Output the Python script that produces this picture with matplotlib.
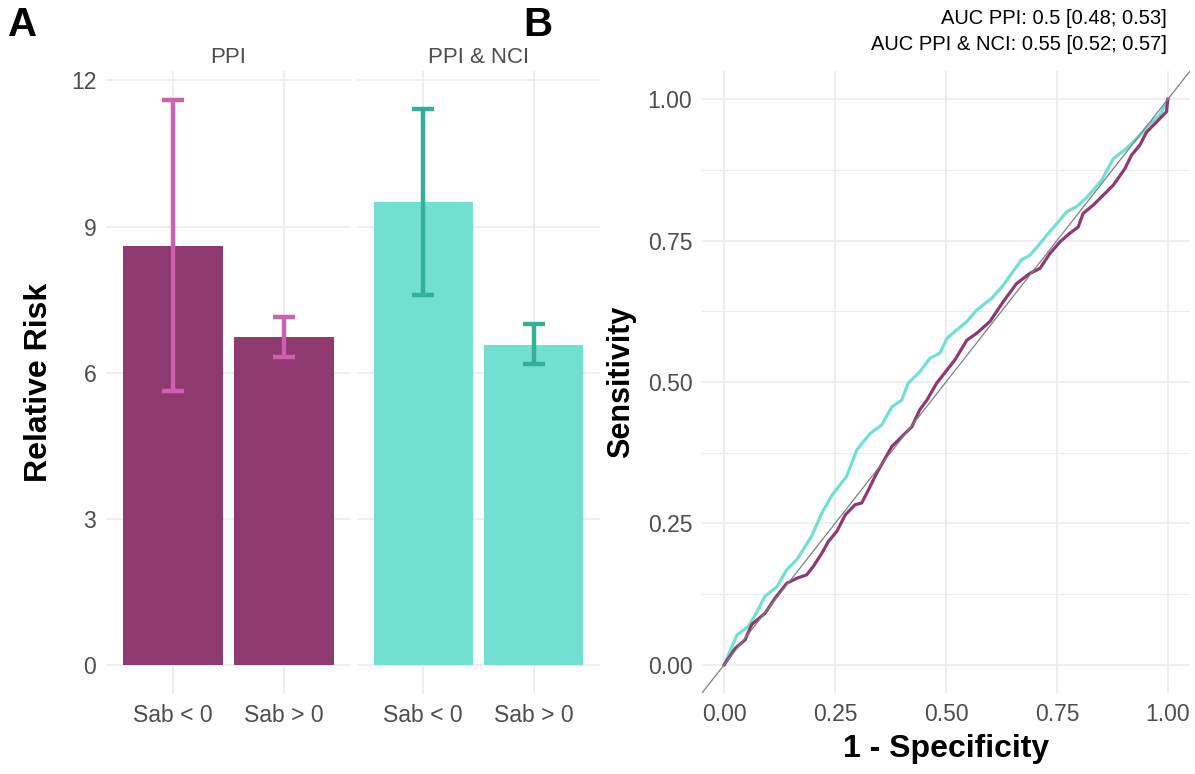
import numpy as np
import matplotlib
matplotlib.use("Agg")
import matplotlib.pyplot as plt

plt.rcParams['font.family'] = ['Liberation Sans', 'DejaVu Sans']

# panel A data
groups = ['PPI', 'PPI & NCI']
categories = ['Sab < 0', 'Sab > 0']
rr_ppi = [8.60, 6.73]
rr_ppi_lo = [5.62, 6.33]
rr_ppi_hi = [11.60, 7.15]
rr_nci = [9.50, 6.57]
rr_nci_lo = [7.59, 6.17]
rr_nci_hi = [11.42, 6.99]
y_ticks_a = [0, 3, 6, 9, 12]

# panel B data (ROC curves)
fpr_ppi = [0.0, 0.025, 0.047, 0.062, 0.092, 0.115, 0.141, 0.164, 0.186, 0.201, 0.220, 0.235,
           0.254, 0.273, 0.295, 0.310, 0.325, 0.344, 0.378, 0.400, 0.423, 0.441, 0.457, 0.479,
           0.502, 0.520, 0.547, 0.569, 0.599, 0.629, 0.659, 0.689, 0.712, 0.734, 0.757, 0.779,
           0.798, 0.809, 0.832, 0.854, 0.877, 0.903, 0.918, 0.937, 0.952, 0.975, 0.997, 1.0]
tpr_ppi = [0.0, 0.029, 0.044, 0.071, 0.091, 0.118, 0.144, 0.153, 0.159, 0.174, 0.197, 0.218,
           0.236, 0.265, 0.283, 0.286, 0.309, 0.339, 0.386, 0.403, 0.421, 0.451, 0.468, 0.498,
           0.521, 0.539, 0.574, 0.586, 0.607, 0.642, 0.674, 0.692, 0.701, 0.727, 0.748, 0.763,
           0.774, 0.798, 0.813, 0.830, 0.848, 0.877, 0.901, 0.919, 0.942, 0.960, 0.978, 1.0]
fpr_nci = [0.0, 0.029, 0.055, 0.070, 0.092, 0.119, 0.141, 0.164, 0.197, 0.220, 0.243, 0.276,
           0.299, 0.329, 0.355, 0.378, 0.400, 0.415, 0.441, 0.464, 0.486, 0.502, 0.524, 0.547,
           0.569, 0.588, 0.603, 0.629, 0.648, 0.670, 0.689, 0.712, 0.734, 0.753, 0.772, 0.794,
           0.817, 0.851, 0.877, 0.907, 0.937, 0.956, 0.982, 1.0]
tpr_nci = [0.0, 0.053, 0.068, 0.088, 0.121, 0.138, 0.168, 0.186, 0.227, 0.268, 0.300, 0.333,
           0.380, 0.409, 0.424, 0.456, 0.468, 0.498, 0.518, 0.542, 0.551, 0.577, 0.592, 0.607,
           0.627, 0.639, 0.648, 0.671, 0.692, 0.716, 0.724, 0.745, 0.766, 0.783, 0.801, 0.810,
           0.826, 0.857, 0.895, 0.913, 0.936, 0.954, 0.972, 1.0]
auc_lines = ['AUC PPI: 0.5 [0.48; 0.53]', 'AUC PPI & NCI: 0.55 [0.52; 0.57]']

purple = '#8E3A70'
teal = '#72E0D1'
pink = '#CC62AE'
dark_teal = '#34AF98'
grid_col = '#EBEBEB'
tick_col = '#4D4D4D'

W, H = 1195, 774
fig = plt.figure(figsize=(W / 100, H / 100), dpi=100)

def box(x0, y0, x1, y1):
    return [x0 / W, 1 - y1 / H, (x1 - x0) / W, (y1 - y0) / H]

def clean(ax):
    for s in ax.spines.values():
        s.set_visible(False)
    ax.tick_params(length=0, labelsize=16.5, labelcolor=tick_col, pad=7)
    ax.set_axisbelow(True)

# panel A, two facets
specs = [(groups[0], rr_ppi, rr_ppi_lo, rr_ppi_hi, purple, pink, 106, 351),
         (groups[1], rr_nci, rr_nci_lo, rr_nci_hi, teal, dark_teal, 357, 600)]
x = np.arange(len(categories))
for i, (name, vals, lo, hi, fc, ec, x0, x1) in enumerate(specs):
    ax = fig.add_axes(box(x0, 71, x1, 694))
    clean(ax)
    ax.bar(x, vals, width=0.9, color=fc, zorder=2)
    yerr = [np.array(vals) - np.array(lo), np.array(hi) - np.array(vals)]
    ax.errorbar(x, vals, yerr=yerr, fmt='none', ecolor=ec, elinewidth=3.2,
                capsize=8, capthick=3.2, zorder=3)
    ax.set_xlim(-0.6, 1.6)
    ax.set_ylim(-0.59, 12.19)
    ax.set_xticks(x)
    ax.set_xticklabels(categories)
    ax.set_yticks(y_ticks_a)
    ax.grid(True, color=grid_col, linewidth=1.2)
    if i == 0:
        ax.set_yticklabels([str(v) for v in y_ticks_a])
        ax.set_ylabel('Relative Risk', fontsize=23, fontweight='bold', labelpad=12)
    else:
        ax.set_yticklabels([])
    ax.set_title(name, fontsize=16, color=tick_col, pad=6)

# panel B, ROC
axb = fig.add_axes(box(702, 71, 1190, 693))
clean(axb)
b_ticks = [0, 0.25, 0.5, 0.75, 1.0]
axb.set_xlim(-0.05, 1.05)
axb.set_ylim(-0.05, 1.05)
axb.set_xticks(b_ticks)
axb.set_yticks(b_ticks)
axb.set_xticklabels(['%.2f' % t for t in b_ticks])
axb.set_yticklabels(['%.2f' % t for t in b_ticks])
axb.set_yticks([0.125, 0.375, 0.625, 0.875], minor=True)
axb.tick_params(which='minor', length=0)
axb.grid(True, which='major', color=grid_col, linewidth=1.2)
axb.grid(True, which='minor', axis='y', color=grid_col, linewidth=0.8)
axb.plot(fpr_nci, tpr_nci, color=teal, linewidth=2.3, zorder=2)
axb.plot(fpr_ppi, tpr_ppi, color=purple, linewidth=2.3, zorder=3)
axb.axline((0, 0), slope=1, color='#808080', linewidth=0.9, zorder=4)
axb.set_xlabel('1 - Specificity', fontsize=23, fontweight='bold', labelpad=6)
axb.set_ylabel('Sensitivity', fontsize=22, fontweight='bold', labelpad=8)

fig.text(1167 / W, 1 - 9 / H, '\n'.join(auc_lines), ha='right', va='top',
         fontsize=14.5, linespacing=1.5)
fig.text(8 / W, 1 - 6 / H, 'A', ha='left', va='top', fontsize=29, fontweight='bold')
fig.text(523 / W, 1 - 6 / H, 'B', ha='left', va='top', fontsize=29, fontweight='bold')

fig.savefig('out.png', dpi=100)
